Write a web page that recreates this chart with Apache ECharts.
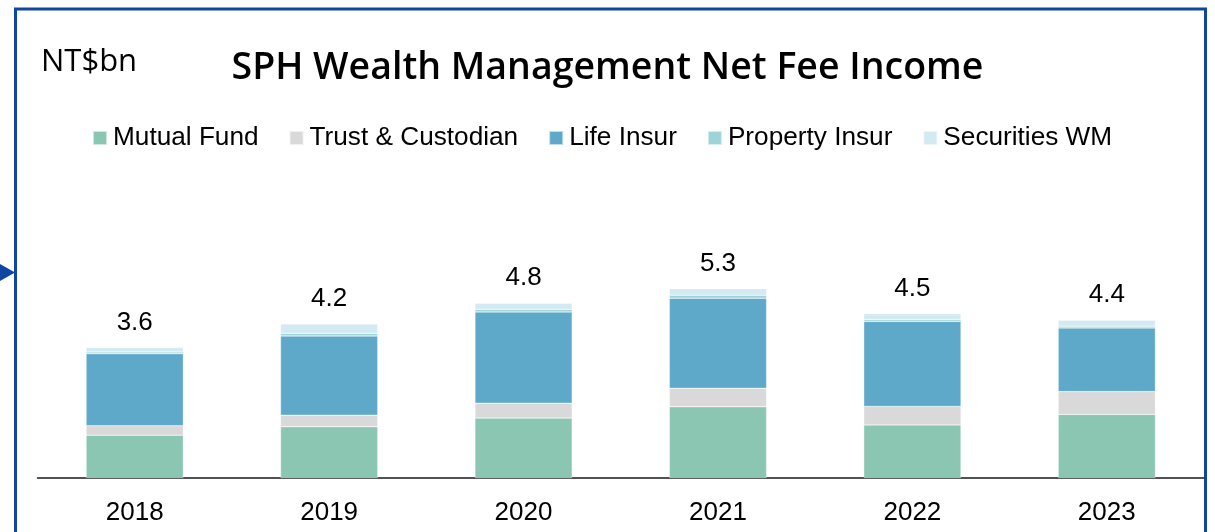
<!DOCTYPE html>
<html>
<head>
<meta charset="utf-8">
<script src="https://cdn.jsdelivr.net/npm/echarts@6/dist/echarts.min.js"></script>
<style>
html,body{margin:0;padding:0;background:#fff;}
#chart{width:1215px;height:532px;}
</style>
</head>
<body>
<div id="chart"></div>
<script>
const years = ['2018', '2019', '2020', '2021', '2022', '2023'];
const mutualFund = [1.18, 1.41, 1.65, 1.96, 1.46, 1.75];
const trustCustodian = [0.26, 0.32, 0.41, 0.51, 0.51, 0.63];
const lifeInsur = [1.98, 2.18, 2.51, 2.48, 2.34, 1.75];
const propertyInsur = [0.05, 0.07, 0.07, 0.08, 0.05, 0.05];
const securitiesWM = [0.12, 0.26, 0.17, 0.18, 0.16, 0.16];
const totals = ['3.6', '4.2', '4.8', '5.3', '4.5', '4.4'];

const seriesNames = ['Mutual Fund', 'Trust & Custodian', 'Life Insur', 'Property Insur', 'Securities WM'];
const seriesData = [mutualFund, trustCustodian, lifeInsur, propertyInsur, securitiesWM];
const colors = ['#8AC6B2', '#D9D9D9', '#5EA9C9', '#9DD4D8', '#D3EAF2'];

const chart = echarts.init(document.getElementById('chart'));

const series = seriesNames.map((name, i) => {
  const s = {
    name: name,
    type: 'bar',
    stack: 'total',
    barWidth: '50%',
    data: seriesData[i],
    itemStyle: { color: colors[i], borderColor: 'rgba(255,255,255,0.6)', borderWidth: 0.5 },
    emphasis: { disabled: true }
  };
  if (i === seriesNames.length - 1) {
    s.label = {
      show: true,
      position: 'top',
      distance: 12,
      fontFamily: 'Liberation Sans, Arial, sans-serif',
      fontSize: 26,
      color: '#000',
      formatter: p => totals[p.dataIndex]
    };
  }
  return s;
});

chart.setOption({
  animation: false,
  color: colors,
  title: [
    {
      text: 'SPH Wealth Management Net Fee Income',
      left: 'center',
      top: 48,
      padding: 0,
      textStyle: { fontFamily: 'Open Sans', fontWeight: 600, fontSize: 37.5, lineHeight: 40, color: '#000' }
    },
    {
      text: 'NT$bn',
      left: 41,
      top: 46,
      padding: 0,
      textStyle: { fontFamily: 'Open Sans', fontWeight: 'normal', fontSize: 31, lineHeight: 33, color: '#000' }
    }
  ],
  legend: {
    left: 92,
    top: 125,
    padding: 0,
    itemWidth: 14,
    itemHeight: 14,
    itemGap: 30,
    icon: 'rect',
    textStyle: { fontFamily: 'Liberation Sans, Arial, sans-serif', fontSize: 26.2, color: '#000', padding: [0, 0, 0, 1] },
    data: seriesNames
  },
  grid: { left: 37.5, right: 11, top: 260, bottom: 54, containLabel: false },
  xAxis: {
    type: 'category',
    data: years,
    axisLine: { show: true, lineStyle: { color: '#1a1a1a', width: 1.5 } },
    axisTick: { show: false },
    axisLabel: { fontFamily: 'Liberation Sans, Arial, sans-serif', fontSize: 26, color: '#000', margin: 22 }
  },
  yAxis: {
    type: 'value',
    min: 0,
    max: 6,
    show: false,
    splitLine: { show: false }
  },
  graphic: [
    {
      type: 'rect',
      shape: { x: 15.5, y: 9, width: 1190, height: 600 },
      style: { fill: 'none', stroke: '#0D47A1', lineWidth: 3 },
      silent: true
    },
    {
      type: 'polygon',
      shape: { points: [[0, 264], [15, 272.5], [0, 281]] },
      style: { fill: '#0D47A1' },
      silent: true
    }
  ],
  series: series
});
</script>
</body>
</html>
